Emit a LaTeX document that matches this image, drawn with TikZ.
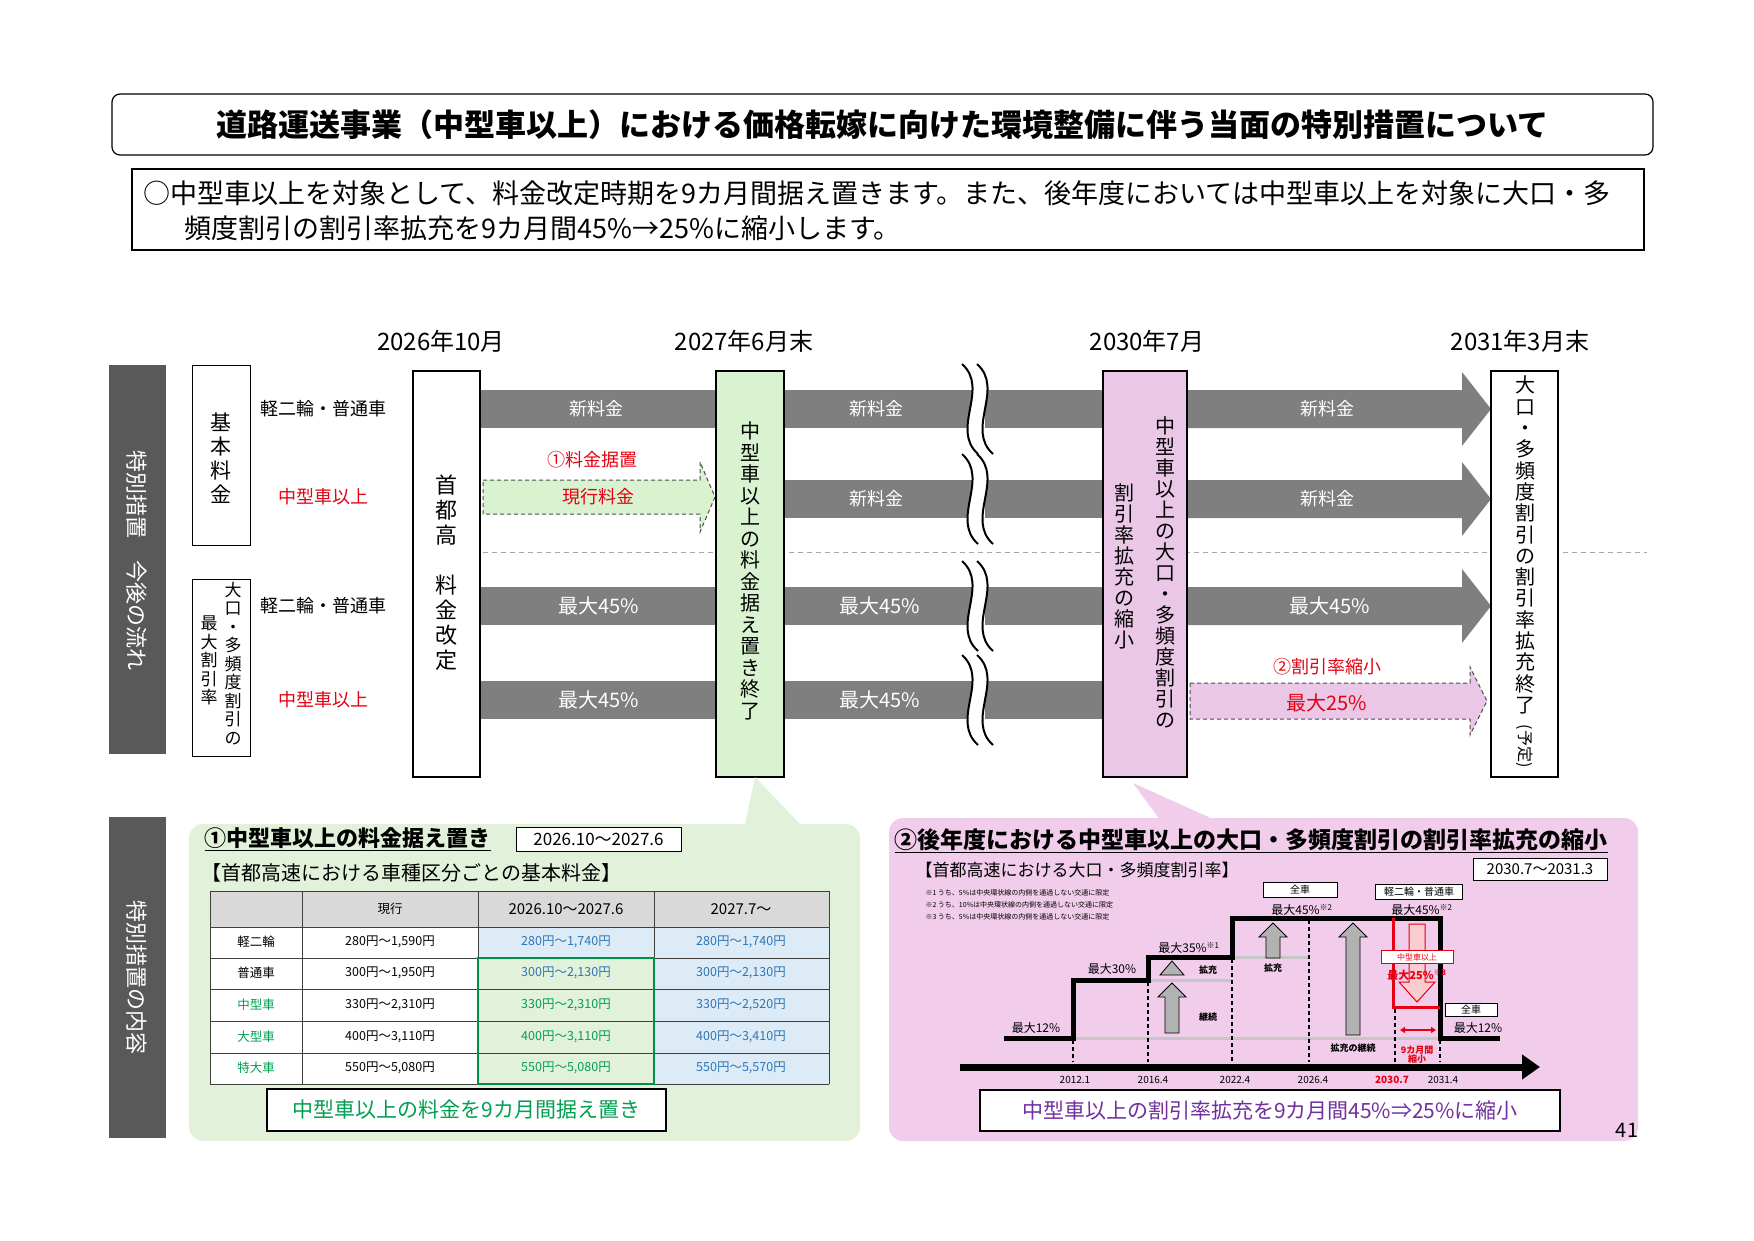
\documentclass[tikz,border=0pt]{standalone}
\usepackage{fontspec}
\setmainfont{Noto Sans CJK JP}
\usetikzlibrary{arrows.meta}
\definecolor{darkbar}{HTML}{595959}
\definecolor{gbar}{HTML}{7F7F7F}
\definecolor{greenbox}{HTML}{D9F2D0}
\definecolor{pinkbox}{HTML}{EAC7E6}
\definecolor{greenpanel}{HTML}{E2F2DA}
\definecolor{pinkpanel}{HTML}{F1CDEB}
\definecolor{jred}{HTML}{E60012}
\definecolor{jgreen}{HTML}{00A050}
\definecolor{jblue}{HTML}{2E75B6}
\definecolor{jpurple}{HTML}{7030A0}
\definecolor{bluefill}{HTML}{DDEBF7}
\definecolor{hdr}{HTML}{D9D9D9}
\newcommand\fs[1]{\fontsize{#1}{#1}\selectfont}
\newcommand\garrow[4]{\filldraw[fill=gray!60,draw=black,line width=0.8] ({#1-#4},#3)--({#1-#4},#2+14)--({#1-#4-7},#2+14)--(#1,#2)--({#1+#4+7},#2+14)--({#1+#4},#2+14)--({#1+#4},#3)--cycle;}
\begin{document}
\begin{tikzpicture}[x=1pt,y=-1pt,
  bar/.style={fill=gbar},
  bartext/.style={white,font=\fs{18}},
  rowlab/.style={font=\fs{18}},
  year/.style={font=\fs{24}},
  vbox/.style={draw=black,line width=1.5,fill=white},
  vt/.style={align=center,font=\fontsize{20}{21}\selectfont,inner sep=0},
  cell/.style={font=\fs{12.5}},
  note/.style={font=\fs{7},anchor=west},
  lab/.style={font=\fs{12}}]
\useasboundingbox (0,0) rectangle (1754,1241);
\fill[white] (0,0) rectangle (1754,1241);
% title
\node[draw,rounded corners=8,line width=1.2,minimum width=1541,minimum height=61] (title) at (882.5,124.5) {};
\node[font=\bfseries\fs{31}] (tt) at (title) {道路運送事業（中型車以上）における価格転嫁に向けた環境整備に伴う当面の特別措置について};
\node[draw,line width=1.2,minimum width=1512,minimum height=81] (sub) at (888,209.5) {};
\node[anchor=west,font=\fs{27}] (s1) at (140,193) {○中型車以上を対象として、料金改定時期を9カ月間据え置きます。また、後年度においては中型車以上を対象に大口・多};
\node[anchor=west,font=\fs{27}] (s2) at (181,228) {頻度割引の割引率拡充を9カ月間45\%→25\%に縮小します。};
% years
\node[year] (y1) at (441,341) {2026年10月};
\node[year] (y2) at (744,341) {2027年6月末};
\node[year] (y3) at (1147,341) {2030年7月};
\node[year] (y4) at (1520,341) {2031年3月末};
% left bars
\fill[darkbar] (109,365) rectangle (166,754);
\node[rotate=-90,white,font=\fs{22}] (lb1) at (137,560) {特別措置　今後の流れ};
\fill[darkbar] (109,817) rectangle (166,1138);
\node[rotate=-90,white,font=\fs{22}] (lb2) at (137,977) {特別措置の内容};
% category boxes
\draw[line width=1] (192,365) rectangle (250,545);
\node[vt,font=\fontsize{21}{24}\selectfont] (kh) at (221,458) {基\\本\\料\\金};
\draw[line width=1] (192,579) rectangle (250,756);
\node[vt,font=\fontsize{17}{18.5}\selectfont,anchor=north] (oc1) at (233,582) {大\\口\\・\\多\\頻\\度\\割\\引\\の};
\node[vt,font=\fontsize{17}{18.5}\selectfont,anchor=north] (oc2) at (209,616) {最\\大\\割\\引\\率};
\node[rowlab] (r1) at (323,409) {軽二輪・普通車};
\node[rowlab,jred] (r2) at (323,497) {中型車以上};
\node[rowlab] (r3) at (323,606) {軽二輪・普通車};
\node[rowlab,jred] (r4) at (323,700) {中型車以上};
% dashed separator
\draw[gray!70,dash pattern=on 5 off 4,line width=1] (483,552) -- (1647,552);
% bars
\foreach \yc in {409,499,606,700}{
  \fill[bar] (784,\yc-19) rectangle (972,\yc+19);
  \fill[bar] (985,\yc-19) rectangle (1103,\yc+19);
}
\foreach \yc in {409,606,700}{\fill[bar] (480,\yc-19) rectangle (716,\yc+19);}
\foreach \yc in {409,499,606}{\fill[bar] (1187,\yc-19)--(1462,\yc-19)--(1462,\yc-37)--(1491,\yc)--(1462,\yc+37)--(1462,\yc+19)--(1187,\yc+19)--cycle;}
% dashed green arrow
\filldraw[fill=greenbox,draw=black!70,dash pattern=on 4 off 3,line width=1] (483,480)--(700,480)--(700,462)--(715,497)--(700,532)--(700,514)--(483,514)--cycle;
% dashed pink arrow
\filldraw[fill=pinkbox,draw=black!70,dash pattern=on 4 off 3,line width=1] (1190,683)--(1470,683)--(1470,667)--(1487,701)--(1470,735)--(1470,719)--(1190,719)--cycle;
% wavy breaks
\foreach \yc in {409,499,606,700}{
  \fill[white] (962,\yc-45) .. controls (990,\yc-20) and (950,\yc+20) .. (978,\yc+45) -- (993,\yc+45) .. controls (965,\yc+20) and (1005,\yc-20) .. (977,\yc-45) -- cycle;
  \draw[line width=2] (962,\yc-45) .. controls (990,\yc-20) and (950,\yc+20) .. (978,\yc+45);
  \draw[line width=2] (977,\yc-45) .. controls (1005,\yc-20) and (965,\yc+20) .. (993,\yc+45);
}
% bar texts
\node[bartext] (t11) at (596,409) {新料金};
\node[bartext] (t12) at (876,409) {新料金};
\node[bartext] (t13) at (1327,409) {新料金};
\node[font=\fs{18},jred] (t20) at (592,460) {①料金据置};
\node[font=\fs{18},jred] (t21) at (598,497) {現行料金};
\node[bartext] (t22) at (876,499) {新料金};
\node[bartext] (t23) at (1327,499) {新料金};
\node[bartext,font=\fs{20}] (t31) at (599,606) {最大45\%};
\node[bartext,font=\fs{20}] (t32) at (880,606) {最大45\%};
\node[bartext,font=\fs{20}] (t33) at (1330,606) {最大45\%};
\node[bartext,font=\fs{20}] (t41) at (599,700) {最大45\%};
\node[bartext,font=\fs{20}] (t42) at (880,700) {最大45\%};
\node[font=\fs{18},jred] (t43) at (1327,667) {②割引率縮小};
\node[font=\fs{20},jred] (t44) at (1327,703) {最大25\%};
% vertical boxes
\draw[vbox] (413,371) rectangle (480,777);
\node[vt,font=\fontsize{22}{25}\selectfont] (shk) at (446,573) {首\\都\\高\\ \\料\\金\\改\\定};
\draw[vbox,fill=greenbox] (716,371) rectangle (784,777);
\node[vt,font=\fontsize{20}{21.5}\selectfont] (gb) at (750,571) {中\\型\\車\\以\\上\\の\\料\\金\\据\\え\\置\\き\\終\\了};
\draw[vbox,fill=pinkbox] (1103,371) rectangle (1187,777);
\node[vt,font=\fontsize{20}{21}\selectfont,anchor=north] (pb1) at (1165,416) {中\\型\\車\\以\\上\\の\\大\\口\\・\\多\\頻\\度\\割\\引\\の};
\node[vt,font=\fontsize{20}{21}\selectfont,anchor=north] (pb2) at (1124,484) {割\\引\\率\\拡\\充\\の\\縮\\小};
\draw[vbox] (1491,371) rectangle (1558,777);
\node[vt,font=\fontsize{20}{21.3}\selectfont,anchor=north] (rb) at (1525,376) {大\\口\\・\\多\\頻\\度\\割\\引\\の\\割\\引\\率\\拡\\充\\終\\了};
\node[rotate=-90,font=\fs{16}] (rb2) at (1525,746) {(予定)};
% panels
\fill[greenpanel,rounded corners=14] (189,824) rectangle (860,1141);
\fill[greenpanel] (755,777) -- (800,824) -- (745,824) -- cycle;
\fill[pinkpanel,rounded corners=14] (889,818) rectangle (1638,1141);
\fill[pinkpanel] (1133,783) -- (1215,820) -- (1160,820) -- cycle;
% green panel
\node[anchor=west,font=\bfseries\fs{22}] (gt) at (201,839) {\underline{①中型車以上の料金据え置き}};
\node[draw,fill=white,line width=1,font=\fs{17},minimum width=165,minimum height=24,inner sep=1] (gd) at (598.5,839) {2026.10～2027.6};
\node[anchor=west,font=\fs{20}] (gs) at (198,873) {【首都高速における車種区分ごとの基本料金】};
\fill[hdr] (210,891) rectangle (829,927);
\fill[white] (210,927) rectangle (478,1084);
\fill[bluefill] (478,927) rectangle (829,1084);
\fill[greenpanel] (478,958) rectangle (654,1084);
\foreach \yy in {891,927,958,989,1021,1053,1084}{\draw[black!75,line width=1] (210,\yy) -- (829,\yy);}
\foreach \xx in {210,302,478,654,829}{\draw[black!75,line width=1] (\xx,891) -- (\xx,1084);}
\draw[jgreen!90!black,line width=2.2] (478,958) rectangle (654,1084);
\node[cell] (h2) at (390,909) {現行};
\node[cell,font=\fs{15}] (h3) at (566,909) {2026.10～2027.6};
\node[cell,font=\fs{15}] (h4) at (741,909) {2027.7～};
\node[cell] (c11) at (256,942) {軽二輪};
\node[cell] (c21) at (256,973) {普通車};
\node[cell,jgreen] (c31) at (256,1005) {中型車};
\node[cell,jgreen] (c41) at (256,1037) {大型車};
\node[cell,jgreen] (c51) at (256,1068) {特大車};
\node[cell] (c12) at (390,942) {280円～1,590円};
\node[cell] (c22) at (390,973) {300円～1,950円};
\node[cell] (c32) at (390,1005) {330円～2,310円};
\node[cell] (c42) at (390,1037) {400円～3,110円};
\node[cell] (c52) at (390,1068) {550円～5,080円};
\node[cell,jblue] (c13) at (566,942) {280円～1,740円};
\node[cell,jblue] (c23) at (566,973) {300円～2,130円};
\node[cell,jgreen] (c33) at (566,1005) {330円～2,310円};
\node[cell,jgreen] (c43) at (566,1037) {400円～3,110円};
\node[cell,jgreen] (c53) at (566,1068) {550円～5,080円};
\node[cell,jblue] (c14) at (741,942) {280円～1,740円};
\node[cell,jblue] (c24) at (741,973) {300円～2,130円};
\node[cell,jblue] (c34) at (741,1005) {330円～2,520円};
\node[cell,jblue] (c44) at (741,1037) {400円～3,410円};
\node[cell,jblue] (c54) at (741,1068) {550円～5,570円};
\node[draw,fill=white,line width=1.2,minimum width=399,minimum height=42,font=\fs{21},text=jgreen] (gbt) at (466.5,1110) {中型車以上の料金を9カ月間据え置き};
% pink panel
\node[anchor=west,font=\bfseries\fs{23}] (pt) at (891,841) {\underline{②後年度における中型車以上の大口・多頻度割引の割引率拡充の縮小}};
\node[anchor=west,font=\fs{17}] (ps) at (912,870) {【首都高速における大口・多頻度割引率】};
\node[draw,fill=white,line width=1,font=\fs{15},minimum width=134,minimum height=22,inner sep=1] (pd) at (1540,869) {2030.7～2031.3};
\node[note] (n1) at (922,893) {※1 うち、5\%は中央環状線の内側を通過しない交通に限定};
\node[note] (n2) at (922,905) {※2 うち、10\%は中央環状線の内側を通過しない交通に限定};
\node[note] (n3) at (922,917) {※3 うち、5\%は中央環状線の内側を通過しない交通に限定};
% chart
\draw[gray!45,line width=3] (1073,1038) -- (1440,1038);
\draw[gray!45,line width=3] (1148,980) -- (1232,980);
\draw[gray!45,line width=3] (1232,957) -- (1309,957);
\foreach \xx/\yt in {1073/1040,1148/982,1232/959,1309/920,1395/1009,1440/1040}{
  \draw[line width=2.5,dash pattern=on 4 off 3] (\xx,\yt) -- (\xx,1062);}
\draw[line width=5] (1004,1038)-|(1073,980)-|(1148,957)-|(1232,918)-|(1440,1038)--(1500,1038);
\draw[line width=7,-{Triangle[length=18,width=24]}] (960,1067) -- (1540,1067);
\garrow{1172}{961}{975}{5}
\garrow{1172}{983}{1033}{7}
\garrow{1273}{923}{958}{7}
\garrow{1353}{923}{1035}{7}
\node[font=\bfseries\fs{9}] (k1) at (1208,970) {拡充};
\node[font=\bfseries\fs{9}] (k2) at (1208,1017) {継続};
\node[font=\bfseries\fs{9}] (k3) at (1273,968) {拡充};
\node[font=\bfseries\fs{9}] (k4) at (1353,1048) {拡充の継続};
\draw[jred,line width=3] (1393,918) -- (1393,1007) -- (1440,1007);
\filldraw[fill=jred!20,draw=jred,line width=1] (1409,924)--(1425,924)--(1425,982)--(1435,982)--(1417,1002)--(1399,982)--(1409,982)--cycle;
\node[draw=jred,fill=white,text=jred,font=\fs{8},minimum width=72,minimum height=13,inner sep=0] (mb) at (1417,957) {中型車以上};
\node[text=jred,font=\bfseries\fs{11}] (m25) at (1417,975) {最大25\%\textsuperscript{※3}};
\draw[jred,line width=1.5,{Triangle[length=5,width=6]}-{Triangle[length=5,width=6]}] (1400,1030) -- (1436,1030);
\node[text=jred,font=\bfseries\fs{9},align=center,inner sep=0] (m9) at (1417,1055) {9カ月間\\縮小};
\node[lab] (l12a) at (1036,1028) {最大12\%};
\node[lab] (l30) at (1112,969) {最大30\%};
\node[lab] (l35) at (1189,948) {最大35\%\textsuperscript{※1}};
\node[draw,fill=white,font=\fs{10},minimum width=74,minimum height=15,inner sep=0] (zc1) at (1300,890) {全車};
\node[lab] (l45a) at (1302,910) {最大45\%\textsuperscript{※2}};
\node[draw,fill=white,font=\fs{10},minimum width=87,minimum height=15,inner sep=0] (kf) at (1419,892) {軽二輪・普通車};
\node[lab] (l45b) at (1422,910) {最大45\%\textsuperscript{※2}};
\node[draw,fill=white,font=\fs{10},minimum width=52,minimum height=13,inner sep=0] (zc2) at (1471,1010) {全車};
\node[lab] (l12b) at (1478,1028) {最大12\%};
\node[font=\fs{10}] (a1) at (1075,1080) {2012.1};
\node[font=\fs{10}] (a2) at (1153,1080) {2016.4};
\node[font=\fs{10}] (a3) at (1235,1080) {2022.4};
\node[font=\fs{10}] (a4) at (1313,1080) {2026.4};
\node[font=\bfseries\fs{10},jred] (a5) at (1392,1080) {2030.7};
\node[font=\fs{10}] (a6) at (1443,1080) {2031.4};
\node[draw,fill=white,line width=1.2,minimum width=580,minimum height=41,font=\fs{21},text=jpurple] (pbt) at (1270,1110.5) {中型車以上の割引率拡充を9カ月間45\%⇒25\%に縮小};
\node[font=\fs{20}] (pg) at (1627,1130) {41};
\end{tikzpicture}
\end{document}
